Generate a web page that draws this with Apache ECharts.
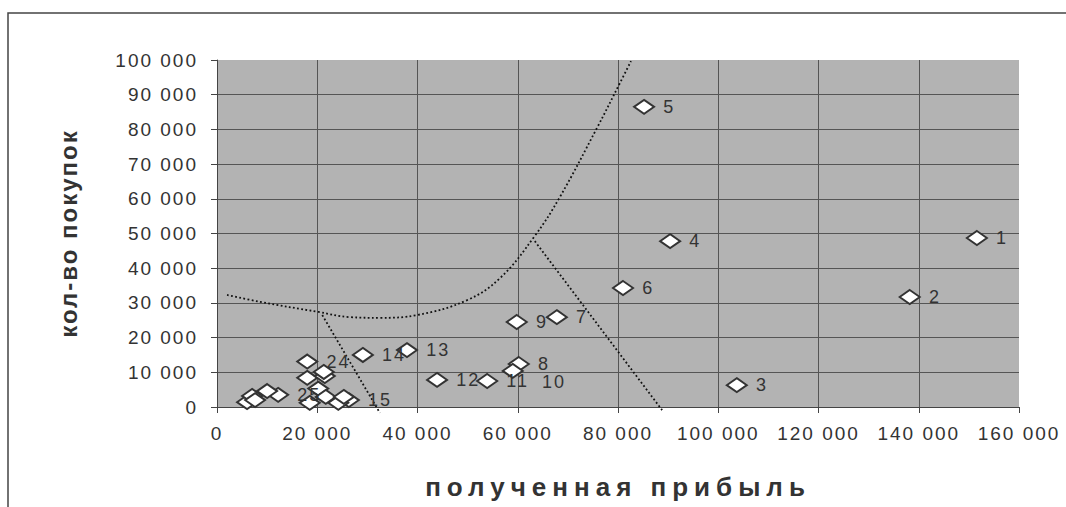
<!DOCTYPE html>
<html>
<head>
<meta charset="utf-8">
<script src="https://cdn.jsdelivr.net/npm/echarts@6/dist/echarts.min.js"></script>
<style>
  html, body { margin: 0; padding: 0; background: #fff; }
  #chart { width: 1066px; height: 507px; }
  /* Excel-like letter spacing, picked by font size */
  #chart text[style*="19px"] { letter-spacing: 2px; }
  #chart text[style*="18px"] { letter-spacing: 2px; }
  #chart text[style*="24px"] { letter-spacing: 2px; }
  #chart text[style*="26px"] { letter-spacing: 6px; }
</style>
</head>
<body>
<div id="chart"></div>
<script>
  // точки: номер, прибыль, кол-во покупок ('' = без подписи)
  const pointIds = ['1', '2', '3', '4', '5', '6', '7', '8', '9', '10', '11', '12', '13', '14', '15', '24', '25',
    '', '', '', '', '', '', '', '', '', '', '', '']
  const profitValues = [151600, 138200, 103700, 90400, 85200, 81000, 67800, 60200, 59800, 59000, 53900, 43900, 37900, 29100, 26300, 18000, 12200,
    6000, 7000, 7600, 10000, 18000, 21500, 21300, 20200, 21700, 18500, 24200, 25300]
  const purchaseValues = [48700, 31700, 6300, 47800, 86500, 34300, 25900, 12400, 24500, 10400, 7500, 7800, 16400, 15000, 2000, 13100, 3500,
    1400, 3200, 2000, 4600, 8400, 8900, 10100, 5300, 2900, 1200, 1200, 2900]

  // пунктирная кривая и две прямые
  const curveX = [2000, 8600, 20200, 26500, 32500, 39900, 49900, 56500, 63400, 68400, 75800, 80400, 82600]
  const curveY = [32300, 30300, 27400, 25900, 25700, 26500, 30800, 37200, 49300, 60500, 80400, 93400, 99700]
  const line1X = [21000, 32500]
  const line1Y = [26500, -1700]
  const line2X = [63400, 88800]
  const line2Y = [47800, -900]

  const xTicks = { min: 0, max: 160000, interval: 20000 }
  const yTicks = { min: 0, max: 100000, interval: 10000 }

  const fontFamily = "'Liberation Sans', Arial, sans-serif"
  const fmt = (v) => String(v).replace(/\B(?=(\d{3})+(?!\d))/g, ' ')
  const zip = (xs, ys) => xs.map((x, i) => [x, ys[i]])

  const scatterData = profitValues.map((x, i) => {
    const item = { value: [x, purchaseValues[i]], name: pointIds[i] }
    if (pointIds[i] === '10') item.label = { offset: [10, 11] }
    return item
  })

  const dotted = { color: '#111', width: 1.8, type: [1.8, 2.4] }

  let myChart = echarts.init(document.getElementById('chart'), null, { renderer: 'svg' })
  myChart.setOption({
    backgroundColor: '#fff',
    animation: false,
    textStyle: { fontFamily: fontFamily },
    graphic: [{
      type: 'rect',
      shape: { x: 8, y: 13, width: 1200, height: 700 },
      style: { fill: 'none', stroke: '#444', lineWidth: 1.5 },
      silent: true
    }],
    grid: {
      left: 217, right: 47, top: 60, bottom: 100,
      show: true, backgroundColor: '#b3b3b3', borderWidth: 0
    },
    xAxis: {
      type: 'value',
      min: xTicks.min, max: xTicks.max, interval: xTicks.interval,
      name: 'полученная прибыль',
      nameLocation: 'middle',
      nameGap: 67,
      nameTextStyle: { fontSize: 26, fontWeight: 'bold', color: '#333', fontFamily: fontFamily },
      axisLine: { show: true, onZero: false, lineStyle: { color: '#444', width: 1 } },
      axisTick: { show: true, length: 6, lineStyle: { color: '#444' } },
      axisLabel: { fontSize: 19, color: '#333', margin: 17, formatter: fmt, fontFamily: fontFamily },
      splitLine: { show: true, showMinLine: false, showMaxLine: false, lineStyle: { color: '#555', width: 1 } }
    },
    yAxis: {
      type: 'value',
      min: yTicks.min, max: yTicks.max, interval: yTicks.interval,
      name: 'кол-во покупок',
      nameLocation: 'middle',
      nameRotate: 90,
      nameGap: 137,
      nameTextStyle: { fontSize: 24, fontWeight: 'bold', color: '#333', fontFamily: fontFamily },
      axisLine: { show: true, onZero: false, lineStyle: { color: '#444', width: 1 } },
      axisTick: { show: true, length: 6, lineStyle: { color: '#444' } },
      axisLabel: { fontSize: 19, color: '#333', margin: 19, formatter: fmt, fontFamily: fontFamily },
      splitLine: { show: true, showMinLine: false, showMaxLine: false, lineStyle: { color: '#555', width: 1 } }
    },
    series: [
      {
        type: 'line', data: zip(curveX, curveY), smooth: 0.4,
        showSymbol: false, clip: false, silent: true, lineStyle: dotted
      },
      {
        type: 'line', data: zip(line1X, line1Y),
        showSymbol: false, clip: false, silent: true, lineStyle: dotted
      },
      {
        type: 'line', data: zip(line2X, line2Y),
        showSymbol: false, clip: false, silent: true, lineStyle: dotted
      },
      {
        type: 'scatter',
        data: scatterData,
        symbol: 'diamond',
        symbolSize: [20, 14],
        itemStyle: { color: '#fff', borderColor: '#333', borderWidth: 2, opacity: 1 },
        label: {
          show: true, position: 'right', distance: 8,
          formatter: (p) => p.name,
          fontSize: 18, color: '#333', fontFamily: fontFamily
        },
        z: 5
      }
    ]
  })
</script>
</body>
</html>
